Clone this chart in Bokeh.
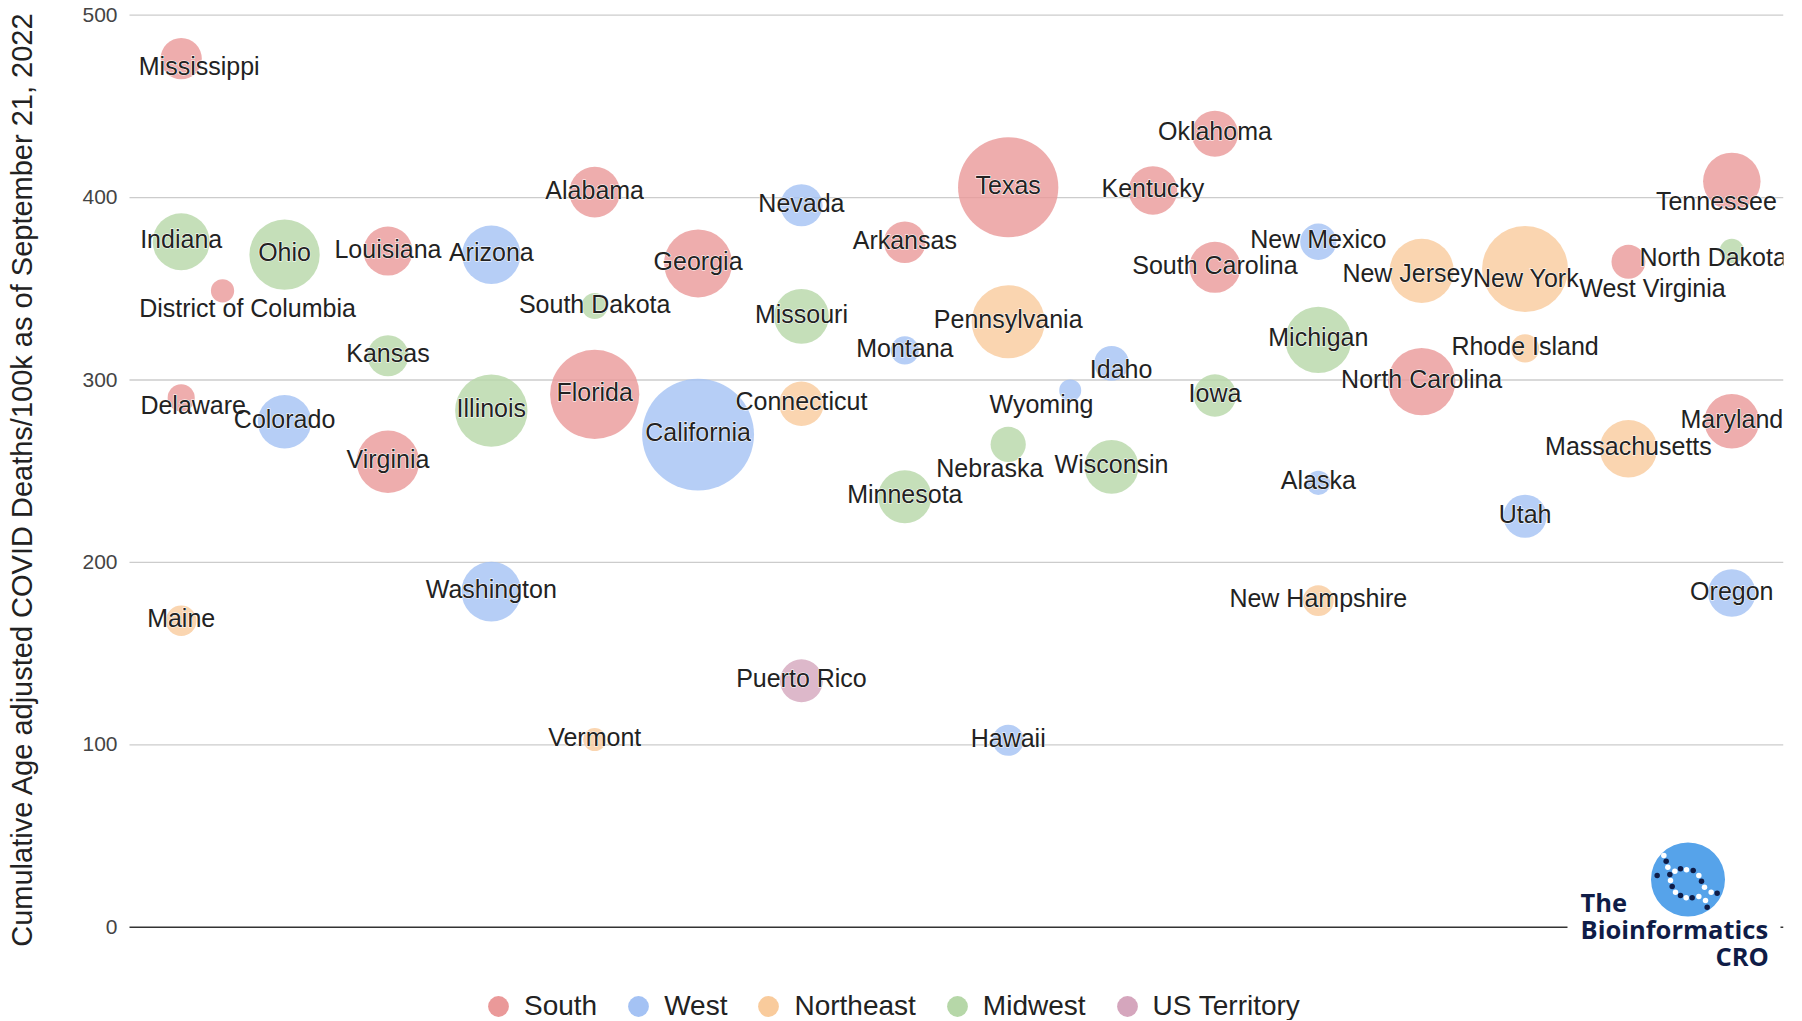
import math
from bokeh.plotting import figure
from bokeh.models import ColumnDataSource, Range1d, Legend, LegendItem
from bokeh.core.properties import value
from bokeh.embed import file_html
from bokeh.resources import INLINE

# ---------------- data ----------------
states = ["Mississippi", "Indiana", "District of Columbia", "Delaware", "Maine",
          "Ohio", "Colorado",
          "Louisiana", "Kansas", "Virginia",
          "Arizona", "Illinois", "Washington",
          "Alabama", "South Dakota", "Florida", "Vermont",
          "Georgia", "California",
          "Nevada", "Missouri", "Connecticut", "Puerto Rico",
          "Arkansas", "Montana", "Minnesota",
          "Texas", "Pennsylvania", "Nebraska", "Hawaii",
          "Wyoming",
          "Idaho", "Wisconsin",
          "Kentucky",
          "Oklahoma", "South Carolina", "Iowa",
          "New Mexico", "Michigan", "Alaska", "New Hampshire",
          "New Jersey", "North Carolina",
          "New York", "Rhode Island", "Utah",
          "West Virginia", "Massachusetts",
          "Tennessee", "North Dakota", "Maryland", "Oregon"]

region = ["South", "Midwest", "South", "South", "Northeast",
          "Midwest", "West",
          "South", "Midwest", "South",
          "West", "Midwest", "West",
          "South", "Midwest", "South", "Northeast",
          "South", "West",
          "West", "Midwest", "Northeast", "US Territory",
          "South", "West", "Midwest",
          "South", "Northeast", "Midwest", "West",
          "West",
          "West", "Midwest",
          "South",
          "South", "South", "Midwest",
          "West", "Midwest", "West", "Northeast",
          "Northeast", "South",
          "Northeast", "Northeast", "West",
          "South", "Northeast",
          "South", "Midwest", "South", "West"]

column = [1, 1, 1.4, 1, 1,
          2, 2,
          3, 3, 3,
          4, 4, 4,
          5, 5, 5, 5,
          6, 6,
          7, 7, 7, 7,
          8, 8, 8,
          9, 9, 9, 9,
          9.6,
          10, 10,
          10.4,
          11, 11, 11,
          12, 12, 12, 12,
          13, 13,
          14, 14, 14,
          15, 15,
          16, 16, 16, 16]

deaths_per_100k = [476.2, 375.8, 348.9, 290.2, 168.0,
                   368.7, 277.1,
                   370.7, 313.3, 255.2,
                   368.7, 283.2, 184.0,
                   403.0, 340.6, 292.1, 102.9,
                   363.9, 270.1,
                   395.8, 334.9, 287.0, 135.1,
                   375.5, 316.2, 236.0,
                   405.7, 331.9, 264.7, 102.5,
                   294.3,
                   309.1, 252.4,
                   403.9,
                   435.0, 361.8, 291.5,
                   375.8, 322.0, 243.6, 179.0,
                   359.8, 299.1,
                   360.8, 317.3, 225.3,
                   364.8, 262.3,
                   408.9, 370.7, 277.4, 183.2]

population_m = [2.95, 6.81, 0.67, 1.00, 1.37,
                11.78, 5.81,
                4.62, 2.93, 8.64,
                7.28, 12.67, 7.74,
                5.04, 0.90, 21.78, 0.65,
                10.80, 39.24,
                3.14, 6.17, 3.61, 3.26,
                3.03, 1.10, 5.71,
                29.53, 13.00, 1.96, 1.44,
                0.58,
                1.90, 5.90,
                4.51,
                3.99, 5.19, 3.19,
                2.12, 10.05, 0.73, 1.39,
                9.27, 10.55,
                19.84, 1.10, 3.34,
                1.78, 6.98,
                6.98, 0.77, 6.17, 4.25]

region_names = ["South", "West", "Northeast", "Midwest", "US Territory"]
region_colors = ["#EA9999", "#A4C2F4", "#F9CB9C", "#B6D7A8", "#D5A6BD"]

y_ticks = [0, 100, 200, 300, 400, 500]
y_tick_labels = ["0", "100", "200", "300", "400", "500"]
y_title = "Cumulative Age adjusted COVID Deaths/100k as of September 21, 2022"

# ---------------- layout / style ----------------
W, H = 1800, 1020
PLOT_L, PLOT_R = 129, 1783          # chart-area edges (px)
Y_ZERO_PX, Y_500_PX = 926.7, 14.7   # baseline and top gridline (px)
XU = (PLOT_R - PLOT_L) / 16.0       # px per column unit
YU = (Y_ZERO_PX - Y_500_PX) / 500.0 # px per death/100k
X0 = 0.5 - PLOT_L / XU
X1 = 16.5
Y1 = Y_ZERO_PX / YU
Y0 = Y1 - H / YU
BASE_FIX = 0.375                    # em shift of rendered text baseline


def px2x(px):
    return X0 + px / XU


def py2y(py):
    return Y1 - py / YU


# bubble radius scale (px)
R_MIN, R_EXP = 11.0, 0.386
pmin = min(population_m)
diam = [2 * R_MIN * (v / pmin) ** R_EXP for v in population_m]

LABEL_PX = 25.0
TICK_PX = 21.0
TITLE_PX = 29.0
LOGO_PX = 25.5

# label nudges (px) where the label sits away from its bubble centre
BASE_DY = 7 - BASE_FIX * LABEL_PX
nudge = {
    "Mississippi": (18, 10),
    "District of Columbia": (25, 20),
    "Delaware": (12, 9),
    "Idaho": (9.5, 7.5),
    "Wyoming": (-28.7, 15.5),
    "Nebraska": (-18.4, 26),
    "Tennessee": (-15.4, 21.6),
    "North Dakota": (-18.6, 8.4),
    "New Jersey": (-14, 4.2),
    "New York": (1, 11),
    "West Virginia": (24, 28.4),
}
dx = [nudge.get(s, (0, 0))[0] for s in states]
dy = [BASE_DY + nudge.get(s, (0, 0))[1] for s in states]

FONT = value("Liberation Sans")

p = figure(width=W, height=H, x_range=Range1d(X0, X1), y_range=Range1d(Y0, Y1),
           x_axis_location=None, y_axis_location=None,
           toolbar_location=None, output_backend="svg",
           min_border_left=0, min_border_right=W - PLOT_R,
           min_border_top=0, min_border_bottom=0)
p.outline_line_color = None
p.background_fill_color = "white"
p.border_fill_color = "white"
p.grid.visible = False

# gridlines, baseline, tick labels
grid_x0 = px2x(PLOT_L)
p.segment(x0=[grid_x0] * (len(y_ticks) - 1), x1=[X1] * (len(y_ticks) - 1),
          y0=y_ticks[1:], y1=y_ticks[1:], line_color="#cccccc", line_width=1.3)
p.segment(x0=[grid_x0], x1=[X1], y0=[y_ticks[0]], y1=[y_ticks[0]],
          line_color="#333333", line_width=1.5)
p.text(x=[px2x(PLOT_L - 12)] * len(y_ticks), y=y_ticks, text=y_tick_labels,
       y_offset=0.358 * TICK_PX - BASE_FIX * TICK_PX, text_align="right",
       text_baseline="alphabetic", text_font=FONT, text_font_size=f"{TICK_PX}px",
       text_color="#444444")

# axis title
p.text(x=[px2x(32.7 - BASE_FIX * TITLE_PX)], y=[py2y(478.8)], text=[y_title],
       angle=math.pi / 2, text_align="center", text_baseline="alphabetic",
       text_font=FONT, text_font_size=f"{TITLE_PX}px", text_color="#222222")

# bubbles (+ legend swatches sharing the same data at full opacity)
legend_items = []
for name, col in zip(region_names, region_colors):
    idx = [i for i, r in enumerate(region) if r == name]
    src = ColumnDataSource(dict(x=[column[i] for i in idx],
                                y=[deaths_per_100k[i] for i in idx],
                                d=[diam[i] for i in idx]))
    p.scatter(x="x", y="y", size="d", source=src, marker="circle",
              fill_color=col, fill_alpha=0.8, line_color=None)
    sw = p.scatter(x="x", y="y", size=0, source=src, marker="circle",
                   fill_color=col, fill_alpha=1.0, line_color=None)
    legend_items.append(LegendItem(label=name, renderers=[sw]))

# bubble labels with white halo
lab_src = ColumnDataSource(dict(x=column, y=deaths_per_100k, t=states, dx=dx, dy=dy))
p.text(x="x", y="y", text="t", x_offset="dx", y_offset="dy", source=lab_src,
       text_font=FONT, text_font_size=f"{LABEL_PX}px", text_color="white",
       text_outline_color="white", text_align="center", text_baseline="alphabetic")
p.text(x="x", y="y", text="t", x_offset="dx", y_offset="dy", source=lab_src,
       text_font=FONT, text_font_size=f"{LABEL_PX}px", text_color="#222222",
       text_align="center", text_baseline="alphabetic")

legend = Legend(items=legend_items, location=(472, -12), orientation="horizontal",
                glyph_width=52, glyph_height=52, label_standoff=0, spacing=15,
                padding=0, margin=0, border_line_color=None, background_fill_alpha=0,
                label_text_font="Liberation Sans", label_text_font_size="28px",
                label_text_color="#222222")
p.add_layout(legend)

# logo
p.quad(left=[px2x(1567)], right=[px2x(1780)], top=[py2y(833)], bottom=[py2y(968)],
       fill_color="white", line_color=None)
p.scatter(x=[px2x(1687.5)], y=[py2y(879)], size=74, marker="circle",
          fill_color="#56A3EA", line_color=None)
white_dots = [(490, 105), (502, 140), (523, 152), (558, 148), (595, 165), (510, 180),
              (612, 200), (525, 215), (557, 232), (595, 228), (632, 215), (615, 240)]
dark_dots = [(497, 122), (470, 165), (508, 162), (540, 145), (578, 150), (603, 182),
             (515, 198), (540, 225), (575, 232), (650, 218), (620, 260)]
for dots, c in ((white_dots, "white"), (dark_dots, "#0f1c47")):
    p.scatter(x=[px2x(1500 + a / 3) for a, b in dots], y=[py2y(820 + b / 3) for a, b in dots],
              size=5.5, marker="circle", fill_color=c, line_color=None)
logo_shift = BASE_FIX * LOGO_PX
p.text(x=[px2x(1580), px2x(1580), px2x(1768.3)],
       y=[py2y(910.7 - logo_shift), py2y(938.3 - logo_shift), py2y(965 - logo_shift)],
       text=["The", "Bioinformatics", "CRO"], text_align=["left", "left", "right"],
       text_baseline="alphabetic", text_font=value("Open Sans"), text_font_style="bold",
       text_font_size=f"{LOGO_PX}px", text_color="#0f1c47")

open("out.html", "w").write(file_html(p, INLINE))
